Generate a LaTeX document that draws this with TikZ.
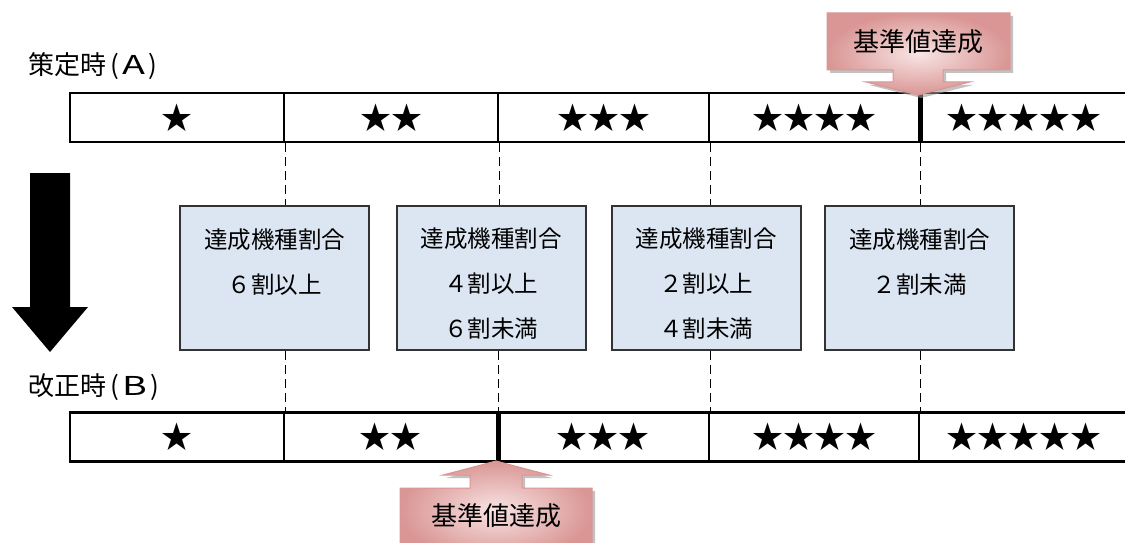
\documentclass[tikz,border=0pt]{standalone}
\usepackage{fontspec}
\usepackage{graphicx}
\setmainfont{Noto Sans CJK JP}
\usetikzlibrary{calc}

\definecolor{boxblue}{HTML}{DCE6F2}
\definecolor{pinkin}{HTML}{F8E4E4}
\definecolor{pinkout}{HTML}{D99694}
\definecolor{pinkline}{HTML}{D99694}

\tikzset{
  seg/.style={draw, line width=2.4pt, minimum height=49pt, inner sep=0pt,
    anchor=west, font=\fontsize{31}{32}\selectfont},
  ratebox/.style={draw=black!80, line width=2pt, fill=boxblue, minimum width=189pt,
    minimum height=144pt, align=center, font=\fontsize{23.5}{45}\selectfont},
  guide/.style={dashed, dash pattern=on 9pt off 5pt, line width=1.3pt},
  thickdiv/.style={line width=4.5pt},
  callout/.style={draw=pinkline, line width=1pt, shading=radial,
    inner color=pinkin, outer color=pinkout},
  calltxt/.style={font=\fontsize{26}{27}\selectfont},
  stagetxt/.style={anchor=west, font=\fontsize{26}{27}\selectfont}
}
\newcommand{\toppad}{\rule{0pt}{30pt}}
\newcommand{\wideltr}[1]{\kern3pt\scalebox{1.45}[1]{#1}\kern3pt}

\begin{document}
\begin{tikzpicture}[x=1pt, y=-1pt]

  \useasboundingbox (0,0) rectangle (1125,543);

  % stage labels
  \node[stagetxt] (ta) at (25,66) {策定時\kern4pt(\wideltr{A})};
  \node[stagetxt] (tb) at (25,387) {改正時\kern4pt(\wideltr{B})};

  % bar A
  \node[seg, minimum width=214pt] (a1) at (69,117.5) {★};
  \node[seg, minimum width=214pt] (a2) at (283,117.5) {★★};
  \node[seg, minimum width=211pt] (a3) at (497,117.5) {★★★};
  \node[seg, minimum width=210pt] (a4) at (708,117.5) {★★★★};
  \node[seg, minimum width=210pt] (a5) at (918,117.5) {★★★★★};

  % bar B
  \node[seg, minimum width=214pt] (b1) at (69,437) {★};
  \node[seg, minimum width=213pt] (b2) at (283,437) {★★};
  \node[seg, minimum width=212pt] (b3) at (496,437) {★★★};
  \node[seg, minimum width=210pt] (b4) at (708,437) {★★★★};
  \node[seg, minimum width=210pt] (b5) at (918,437) {★★★★★};

  % rate boxes
  \node[ratebox] (k1) at (274.5,278) {\toppad 達成機種割合\\６割以上\\\mbox{}};
  \node[ratebox] (k2) at (491,278) {\toppad 達成機種割合\\４割以上\\６割未満};
  \node[ratebox] (k3) at (706,278) {\toppad 達成機種割合\\２割以上\\４割未満};
  \node[ratebox] (k4) at (919.5,278) {\toppad 達成機種割合\\２割未満\\\mbox{}};

  % dashed guides
  \draw[guide] (a1.south east) -- (a1.south east |- k1.north);
  \draw[guide] (a2.south east) -- (a2.south east |- k2.north);
  \draw[guide] (a3.south east) -- (a3.south east |- k3.north);
  \draw[guide] (a4.south east) -- (a4.south east |- k4.north);
  \draw[guide] (k1.south -| b1.north east) -- (b1.north east);
  \draw[guide] (k2.south -| b2.north east) -- (b2.north east);
  \draw[guide] (k3.south -| b3.north east) -- (b3.north east);
  \draw[guide] (k4.south -| b4.north east) -- (b4.north east);

  % thick dividers
  \draw[thickdiv] (a4.north east) -- (a4.south east);
  \draw[thickdiv] (b2.north east) -- (b2.south east);

  % big arrow
  \fill (30,173) -- (70,173) -- (70,307) -- (88,307) -- (50,352) -- (12,307)
    -- (30,307) -- cycle;

  % callout A
  \fill[black!40, opacity=.6, xshift=3pt, yshift=-3pt]
    (827,13) -- (1010,13) -- (1010,70) -- (943,70) -- (943,82) -- (970,82)
    -- (918,95) -- (866,82) -- (893,82) -- (893,70) -- (827,70) -- cycle;
  \path[callout]
    (827,13) -- (1010,13) -- (1010,70) -- (943,70) -- (943,82) -- (970,82)
    -- (918,95) -- (866,82) -- (893,82) -- (893,70) -- (827,70) -- cycle;
  \node[calltxt] (ca) at (918.5,42) {基準値達成};

  % callout B
  \fill[black!40, opacity=.6, xshift=3pt, yshift=-3pt]
    (496,461) -- (549,475) -- (522,475) -- (522,488) -- (592,488) -- (592,560)
    -- (400,560) -- (400,488) -- (470,488) -- (470,475) -- (443,475) -- cycle;
  \path[callout]
    (496,461) -- (549,475) -- (522,475) -- (522,488) -- (592,488) -- (592,560)
    -- (400,560) -- (400,488) -- (470,488) -- (470,475) -- (443,475) -- cycle;
  \node[calltxt] (cb) at (496,516) {基準値達成};

\end{tikzpicture}
\end{document}
